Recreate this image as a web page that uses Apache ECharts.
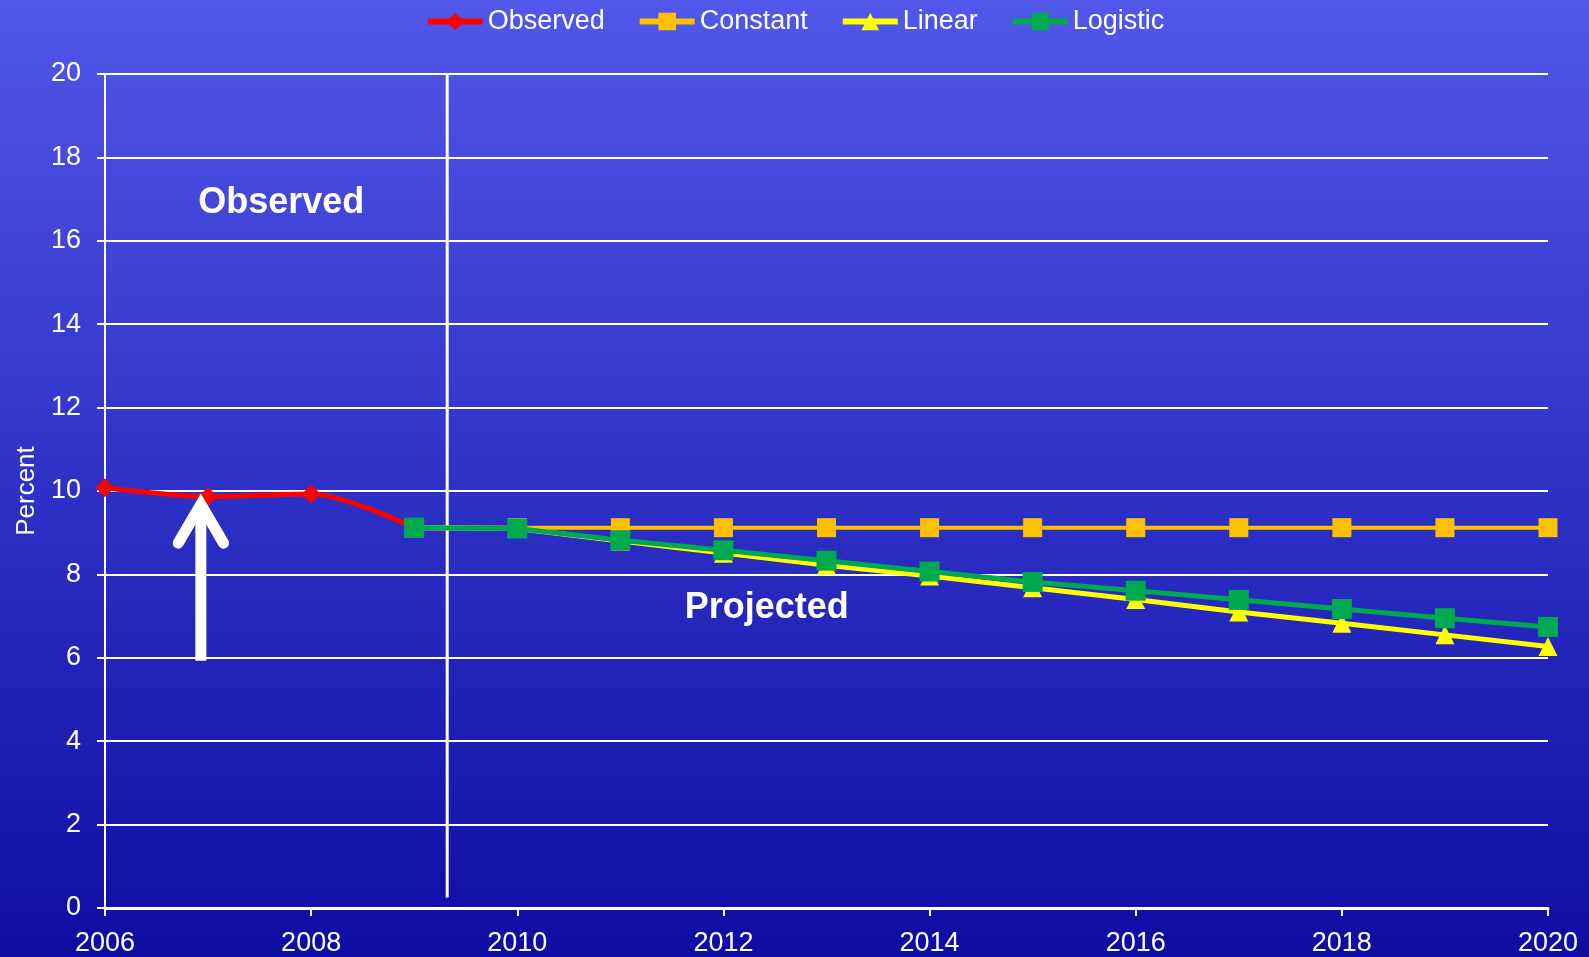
<!DOCTYPE html>
<html>
<head>
<meta charset="utf-8">
<script src="https://cdn.jsdelivr.net/npm/echarts@6/dist/echarts.min.js"></script>
<style>
  html, body { margin: 0; padding: 0; }
  #chart { width: 1589px; height: 957px; }
</style>
</head>
<body>
<div id="chart"></div>
<script>
// percent projections, observed 2006-2009 then three scenarios to 2020
var obsYears = [2006, 2007, 2008, 2009];
var observed = [10.08, 9.87, 9.93, 9.12];

var projYears = [2009, 2010, 2011, 2012, 2013, 2014, 2015, 2016, 2017, 2018, 2019, 2020];
var constant = [9.12, 9.12, 9.12, 9.12, 9.12, 9.12, 9.12, 9.12, 9.12, 9.12, 9.12, 9.12];
var linear   = [9.12, 9.1, 8.8, 8.51, 8.22, 7.96, 7.68, 7.4, 7.1, 6.83, 6.55, 6.27];
var logistic = [9.12, 9.1, 8.82, 8.58, 8.33, 8.07, 7.82, 7.61, 7.39, 7.17, 6.95, 6.74];

var yTicks = [0, 20, 2];      // min, max, interval
var xTicks = [2006, 2020, 2];

// annotations (data coords)
var dividerX = 2009.32;
var dividerY = [0.25, 20];
var arrowShaft = [[2006.93, 5.93], [2006.93, 9.6]];
var arrowHead = [[2006.71, 8.75], [2006.93, 9.68], [2007.15, 8.75]];
var labelObserved = [2007.71, 16.9];
var labelProjected = [2012.42, 7.2];

function pairs(xs, ys) {
  return xs.map(function(x, i) { return [x, ys[i]]; });
}

var chart = echarts.init(document.getElementById('chart'));
var font = '"Liberation Sans", Arial, sans-serif';

chart.setOption({
  animation: false,
  backgroundColor: new echarts.graphic.LinearGradient(0, 0, 0, 1, [
    { offset: 0, color: '#5157E9' },
    { offset: 1, color: '#0D0DA4' }
  ]),
  textStyle: { fontFamily: font },
  grid: { left: 105, right: 41, top: 74, bottom: 49 },
  legend: {
    data: ['Observed', 'Constant', 'Linear', 'Logistic'],
    top: 3,
    left: 'center',
    itemWidth: 55,
    itemHeight: 22,
    itemGap: 32,
    lineStyle: { width: 6 },
    textStyle: { color: '#ffffff', fontSize: 27, fontFamily: font }
  },
  xAxis: {
    type: 'value',
    min: xTicks[0], max: xTicks[1], interval: xTicks[2],
    axisLine: { show: true, lineStyle: { color: '#ffffff', width: 3 } },
    axisTick: { show: true, length: 8, lineStyle: { color: '#ffffff', width: 2 } },
    axisLabel: { color: '#ffffff', fontSize: 27, margin: 22, formatter: function(v) { return String(v); } },
    splitLine: { show: false }
  },
  yAxis: {
    type: 'value',
    min: yTicks[0], max: yTicks[1], interval: yTicks[2],
    name: 'Percent',
    nameLocation: 'middle',
    nameRotate: 90,
    nameGap: 64,
    nameTextStyle: { color: '#ffffff', fontSize: 26 },
    axisLine: { show: true, lineStyle: { color: '#ffffff', width: 2 } },
    axisTick: { show: true, length: 8, lineStyle: { color: '#ffffff', width: 2 } },
    axisLabel: { color: '#ffffff', fontSize: 27, margin: 24 },
    splitLine: { lineStyle: { color: '#ffffff', width: 2 } }
  },
  series: [
    {
      name: 'divider', type: 'line', silent: true, symbol: 'none',
      data: [[dividerX, dividerY[0]], [dividerX, dividerY[1]]],
      lineStyle: { color: '#ffffff', width: 3 }, z: 1
    },
    {
      name: 'Observed', type: 'line', smooth: 0.3,
      data: pairs(obsYears, observed),
      symbol: 'diamond', symbolSize: 19,
      lineStyle: { color: '#FF0000', width: 5 },
      itemStyle: { color: '#FF0000' }, z: 2
    },
    {
      name: 'Constant', type: 'line',
      data: pairs(projYears, constant),
      symbol: 'rect', symbolSize: 19,
      lineStyle: { color: '#FFC000', width: 4 },
      itemStyle: { color: '#FFC000' }, z: 3
    },
    {
      name: 'Linear', type: 'line',
      data: pairs(projYears, linear),
      symbol: 'triangle', symbolSize: 19,
      lineStyle: { color: '#FFFF00', width: 5 },
      itemStyle: { color: '#FFFF00' }, z: 4
    },
    {
      name: 'Logistic', type: 'line',
      data: pairs(projYears, logistic),
      symbol: 'rect', symbolSize: 20,
      lineStyle: { color: '#00A850', width: 5 },
      itemStyle: { color: '#00A850' }, z: 5
    },
    {
      name: 'arrowShaft', type: 'line', silent: true, symbol: 'none',
      data: arrowShaft,
      lineStyle: { color: '#ffffff', width: 11, cap: 'butt' }, z: 6
    },
    {
      name: 'arrowHead', type: 'line', silent: true, symbol: 'none',
      data: arrowHead,
      lineStyle: { color: '#ffffff', width: 11, cap: 'round', join: 'miter', miterLimit: 10 }, z: 6
    }
  ]
});

var pObs = chart.convertToPixel({ gridIndex: 0 }, labelObserved);
var pProj = chart.convertToPixel({ gridIndex: 0 }, labelProjected);
chart.setOption({
  graphic: [
    { type: 'text', x: pObs[0], y: pObs[1], z: 10,
      style: { text: 'Observed', fill: '#ffffff', fontSize: 36, fontWeight: 'bold', fontFamily: font, align: 'center', verticalAlign: 'middle' } },
    { type: 'text', x: pProj[0], y: pProj[1], z: 10,
      style: { text: 'Projected', fill: '#ffffff', fontSize: 36, fontWeight: 'bold', fontFamily: font, align: 'center', verticalAlign: 'middle' } }
  ]
});
window.addEventListener('resize', function() { chart.resize(); });
</script>
</body>
</html>
